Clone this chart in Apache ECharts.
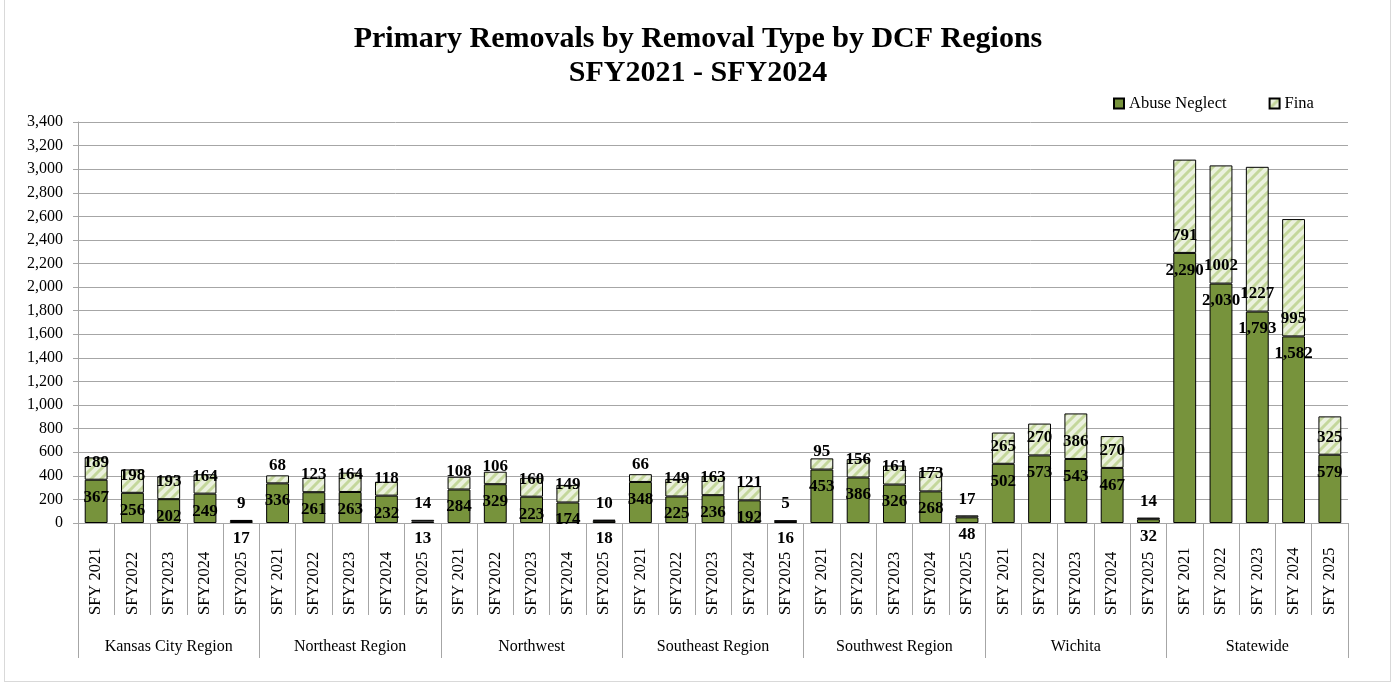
<!DOCTYPE html>
<html lang="en">
<head>
    <meta charset="utf-8">
    <title>Primary Removals by Removal Type by DCF Regions</title>
    <script src="https://cdn.jsdelivr.net/npm/echarts@6/dist/echarts.min.js"></script>
    <style>
        html, body { margin: 0; padding: 0; background: #fff; }
        #frame { position: absolute; left: 4px; top: 0; width: 1385px; height: 681px; border: 1px solid #d9d9d9; border-top: none; }
        #main { position: absolute; left: 0; top: 0; width: 1396px; height: 683px; }
    </style>
</head>
<body>
<div id="frame"></div>
<div id="main"></div>
<script>
    // regions and fiscal years (bottom two-level axis)
    var regions = ['Kansas City Region', 'Northeast Region', 'Northwest', 'Southeast Region',
                   'Southwest Region', 'Wichita', 'Statewide'];
    var years = [
        'SFY 2021', 'SFY2022', 'SFY2023', 'SFY2024', 'SFY2025',
        'SFY 2021', 'SFY2022', 'SFY2023', 'SFY2024', 'SFY2025',
        'SFY 2021', 'SFY2022', 'SFY2023', 'SFY2024', 'SFY2025',
        'SFY 2021', 'SFY2022', 'SFY2023', 'SFY2024', 'SFY2025',
        'SFY 2021', 'SFY2022', 'SFY2023', 'SFY2024', 'SFY2025',
        'SFY 2021', 'SFY2022', 'SFY2023', 'SFY2024', 'SFY2025',
        'SFY 2021', 'SFY 2022', 'SFY 2023', 'SFY 2024', 'SFY 2025'
    ];
    var abuseNeglect = [
        367, 256, 202, 249, 17,
        336, 261, 263, 232, 13,
        284, 329, 223, 174, 18,
        348, 225, 236, 192, 16,
        453, 386, 326, 268, 48,
        502, 573, 543, 467, 32,
        2290, 2030, 1793, 1582, 579
    ];
    var fina = [
        189, 198, 193, 164, 9,
        68, 123, 164, 118, 14,
        108, 106, 160, 149, 10,
        66, 149, 163, 121, 5,
        95, 156, 161, 173, 17,
        265, 270, 386, 270, 14,
        791, 1002, 1227, 995, 325
    ];

    // light green diagonal hatch for the Fina segment
    function hatch() {
        var c = document.createElement('canvas');
        c.width = 10; c.height = 10;
        var g = c.getContext('2d');
        g.fillStyle = '#ebf1de';
        g.fillRect(0, 0, 10, 10);
        g.strokeStyle = '#c4d79b';
        g.lineWidth = 3;
        g.beginPath();
        g.moveTo(-2, 12); g.lineTo(12, -2);
        g.moveTo(-7, 7); g.lineTo(7, -7);
        g.moveTo(3, 17); g.lineTo(17, 3);
        g.stroke();
        return c;
    }

    var serif = '"Liberation Serif", "DejaVu Serif", serif';
    var gray = '#a6a6a6';
    var chart = echarts.init(document.getElementById('main'));
    var option = {
        animation: false,
        textStyle: { fontFamily: serif, color: '#000' },
        title: {
            text: 'Primary Removals by Removal Type by DCF Regions\nSFY2021 - SFY2024',
            left: 'center',
            top: 17,
            textStyle: { fontFamily: serif, fontSize: 30, fontWeight: 'bold', lineHeight: 34, color: '#000' }
        },
        legend: {
            top: 90,
            left: 1108,
            icon: 'rect',
            itemWidth: 10,
            itemHeight: 10,
            itemGap: 42,
            textStyle: { fontFamily: serif, fontSize: 16.5, color: '#000' },
            data: ['Abuse Neglect', 'Fina']
        },
        grid: { left: 78, right: 48, top: 122, bottom: 160 },
        xAxis: [
            {
                type: 'category',
                data: years,
                axisLine: { lineStyle: { color: gray } },
                axisTick: { show: true, length: 92, interval: 0, lineStyle: { color: gray } },
                axisLabel: {
                    interval: 0, rotate: 90, margin: 92, align: 'left',
                    fontSize: 16.5, fontFamily: serif, color: '#000'
                }
            },
            {
                type: 'category',
                position: 'bottom',
                data: regions,
                axisLine: { show: false },
                axisTick: { show: true, length: 135, interval: 0, lineStyle: { color: gray } },
                axisLabel: { interval: 0, margin: 116, fontSize: 16, fontFamily: serif, color: '#000' }
            }
        ],
        yAxis: {
            type: 'value',
            min: 0,
            max: 3400,
            interval: 200,
            axisLine: { show: true, lineStyle: { color: gray } },
            axisTick: { show: true, length: 5, lineStyle: { color: gray } },
            splitLine: { lineStyle: { color: gray } },
            axisLabel: {
                margin: 15, fontSize: 16, fontFamily: serif, color: '#000',
                formatter: function (v) { return v.toLocaleString('en-US'); }
            }
        },
        series: [
            {
                name: 'Abuse Neglect',
                type: 'bar',
                stack: 'total',
                xAxisIndex: 0,
                barWidth: '63%',
                data: abuseNeglect,
                itemStyle: { color: '#77933c', borderColor: '#000', borderWidth: 1 },
                label: {
                    show: true,
                    position: 'insideTop',
                    distance: 9,
                    fontFamily: serif, fontSize: 17, fontWeight: 'bold', color: '#000',
                    formatter: function (p) { return p.value.toLocaleString('en-US'); }
                }
            },
            {
                name: 'Fina',
                type: 'bar',
                stack: 'total',
                xAxisIndex: 0,
                barWidth: '63%',
                data: fina,
                itemStyle: { color: { image: hatch(), repeat: 'repeat' }, borderColor: '#000', borderWidth: 1 },
                label: {
                    show: true,
                    position: 'insideBottom',
                    distance: 9,
                    fontFamily: serif, fontSize: 17, fontWeight: 'bold', color: '#000'
                }
            }
        ]
    };
    chart.setOption(option);
</script>
</body>
</html>
